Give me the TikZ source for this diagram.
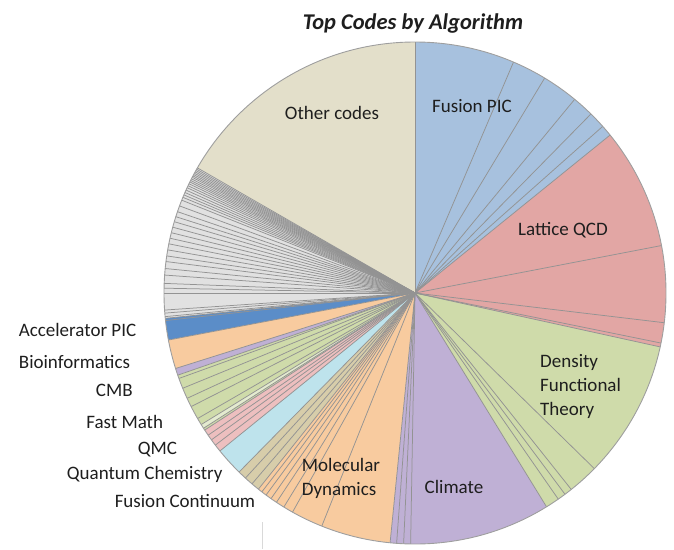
\documentclass[tikz,border=0pt]{standalone}
\usepackage{fontspec}
\setmainfont{Carlito}
\definecolor{beigeC}{HTML}{E3DFCA}
\definecolor{blueC}{HTML}{A7C1DE}
\definecolor{redC}{HTML}{E2A6A4}
\definecolor{greenC}{HTML}{CFDBAA}
\definecolor{lgreenC}{HTML}{E4EBCF}
\definecolor{purpleC}{HTML}{BFB0D5}
\definecolor{orangeC}{HTML}{F8CB9F}
\definecolor{grayC}{HTML}{E1E1E1}
\definecolor{dblueC}{HTML}{5B8DC8}
\definecolor{lblueC}{HTML}{BEE3EC}
\definecolor{tanC}{HTML}{D7CDAA}
\definecolor{pinkC}{HTML}{EDBFBF}
\definecolor{lineC}{HTML}{939393}
\definecolor{txtC}{HTML}{1E1E1E}
\newcommand\pieSector[3]{\fill[#3] (O) -- ++(#1:251) arc[start angle=#1, end angle=#2, radius=251] -- cycle;}
\begin{document}
\begin{tikzpicture}[x=1pt,y=1pt,
  seg/.style={draw=lineC, line width=0.75pt},
  rimline/.style={draw=lineC!90, line width=0.9pt},
  lab/.style={font=\fontsize{19}{24}\selectfont, text=txtC, inner sep=0pt},
  ttl/.style={font=\fontsize{22.5}{27}\selectfont\bfseries\itshape, text=txtC, inner sep=0pt}]
\useasboundingbox (0,0) rectangle (674,-549);
\coordinate (O) at (415,-293);
% sectors
\pieSector{90}{150.1}{beigeC}
\pieSector{150.1}{185.8}{grayC}
\pieSector{185.8}{190.8}{dblueC}
\pieSector{190.8}{197.5}{orangeC}
\pieSector{197.5}{199.1}{purpleC}
\pieSector{199.1}{213.1}{greenC}
\pieSector{211.6}{212.6}{lgreenC}
\pieSector{213.1}{219}{pinkC}
\pieSector{219}{225.5}{lblueC}
\pieSector{225.5}{231.4}{tanC}
\pieSector{231.4}{264.3}{orangeC}
\pieSector{264.3}{301.6}{purpleC}
\pieSector{301.6}{347.6}{greenC}
\pieSector{347.6}{399}{redC}
\pieSector{39}{90}{blueC}
% radial lines
\foreach \t in {90,66.9,58.9,50.5,45.5,41.6,39,
  10.9,-6.8,-11.5,-12.4,
  -44.4,-51.5,-53.3,-55.2,-58.4,
  269,267.4,265.8,264.3,
  248.2,240.8,238.5,236.5,235,233.6,232.4,231.4,
  229.5,227.5,225.5,219,
  217.3,215.8,214.5,213.1,
  212.6,211.6,210,206.9,204.8,202.3,199.9,199.1,197.5,190.8,186.3,185.8,
  185.4,184.6,183.9,180,178.9,177.8,175.9,174.4,172.8,171.5,170.1,168.7,167.4,166.1,164.8,163.5,162.3,161.1,159.7,158.3,
  157.6,157.0,156.4,155.8,155.2,154.7,154.2,153.75,153.35,152.95,152.55,152.2,151.85,151.5,151.15,150.8,150.45,150.1}
  {\draw[seg] (O) -- ++(\t:251);}
\draw[rimline] (O) circle[radius=251];
% stray vertical line
\coordinate (vtop) at (262,-522);
\coordinate (vbot) at (262,-549);
\draw[draw=black!15, line width=0.8pt] (vtop) -- (vbot);
% labels
\node[ttl] (title) at (413,-23) {Top Codes by Algorithm};
\node[lab] (other) at (332,-113) {Other codes};
\node[lab] (fpic) at (472,-106) {Fusion PIC};
\node[lab] (lqcd) at (563,-230) {Lattice QCD};
\node[lab, anchor=west, align=left] (dft) at (540,-386.7) {Density\\Functional\\Theory};
\node[lab] (climate) at (454,-486.7) {Climate};
\node[lab, anchor=west, align=left, font=\fontsize{19}{23.3}\selectfont] (md) at (301.7,-478.3) {Molecular\\Dynamics};
\node[lab] (apic) at (77.5,-330) {Accelerator PIC};
\node[lab] (bio) at (74.5,-361.7) {Bioinformatics};
\node[lab] (cmb) at (114.3,-390) {CMB};
\node[lab] (fmath) at (124.7,-421.7) {Fast Math};
\node[lab] (qmc) at (157.5,-450) {QMC};
\node[lab] (qchem) at (144.7,-474) {Quantum Chemistry};
\node[lab] (fcont) at (185,-501) {Fusion Continuum};
\end{tikzpicture}
\end{document}
